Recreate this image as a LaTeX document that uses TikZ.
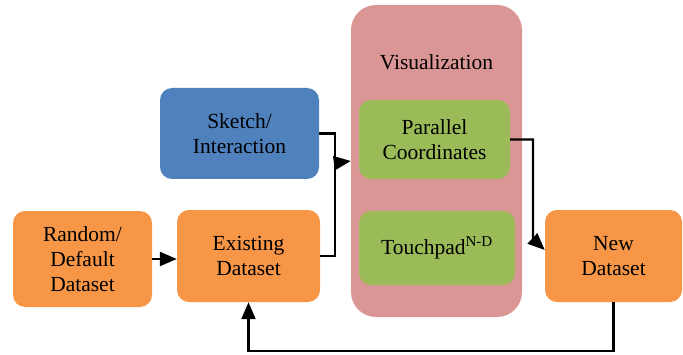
\documentclass[tikz,border=0pt]{standalone}
\usepackage{fontspec}
\setmainfont{Liberation Serif}
\usetikzlibrary{positioning}
\usetikzlibrary{arrows.meta}

\definecolor{arancio}{HTML}{F79646}
\definecolor{blu}{HTML}{4F81BD}
\definecolor{verde}{HTML}{9BBB59}
\definecolor{rosa}{HTML}{D99694}

\begin{document}
\begin{tikzpicture}[x=1pt,y=1pt,align=center,
font=\fontsize{21.5}{25}\selectfont,
scatola/.style={rounded corners=12pt,inner sep=0pt},
dati/.style={scatola,fill=arancio},
freccia/.style={line width=2.3pt,-{Triangle[length=17pt,width=14pt]}},
linea/.style={line width=2.3pt}
]
\useasboundingbox (0,0) rectangle (683,354);
%--
\node[fill=rosa,rounded corners=25pt,minimum width=171pt,minimum height=312pt](vis) at (436.5,193){};
\node(titolo) at (436.5,292){Visualization};
\node[scatola,fill=verde,minimum width=151pt,minimum height=79pt](pc) at (434.5,214.5){Parallel\\Coordinates};
\node[scatola,fill=verde,minimum width=156pt,minimum height=74pt](touch) at (437,106){Touchpad\textsuperscript{N-D}};
%--
\node[dati,minimum width=139pt,minimum height=96pt](random) at (82.5,95){Random/\\Default\\Dataset};
\node[dati,minimum width=143pt,minimum height=92pt](existing) at (248.5,98){Existing\\Dataset};
\node[scatola,fill=blu,minimum width=159pt,minimum height=91pt](sketch) at (239.5,220.5){Sketch/\\Interaction};
\node[dati,minimum width=137pt,minimum height=92pt](new) at (613.5,98){New\\Dataset};
%--
\draw [freccia] (random.east) -- (random.east -| existing.west);
%--
\coordinate (join) at (335,191);
\draw [linea] (sketch.east) -| (join);
\draw [linea] (existing.east) -| (join);
\draw [freccia] (join) -- (vis.west);
%--
\coordinate (piega) at (533,115);
\draw [freccia] (pc.east) -| (piega) -- ([yshift=6pt]new.west);
%--
\draw [freccia] (new.south) -- ++(0,-49) -| (existing.south);
\end{tikzpicture}
\end{document}
